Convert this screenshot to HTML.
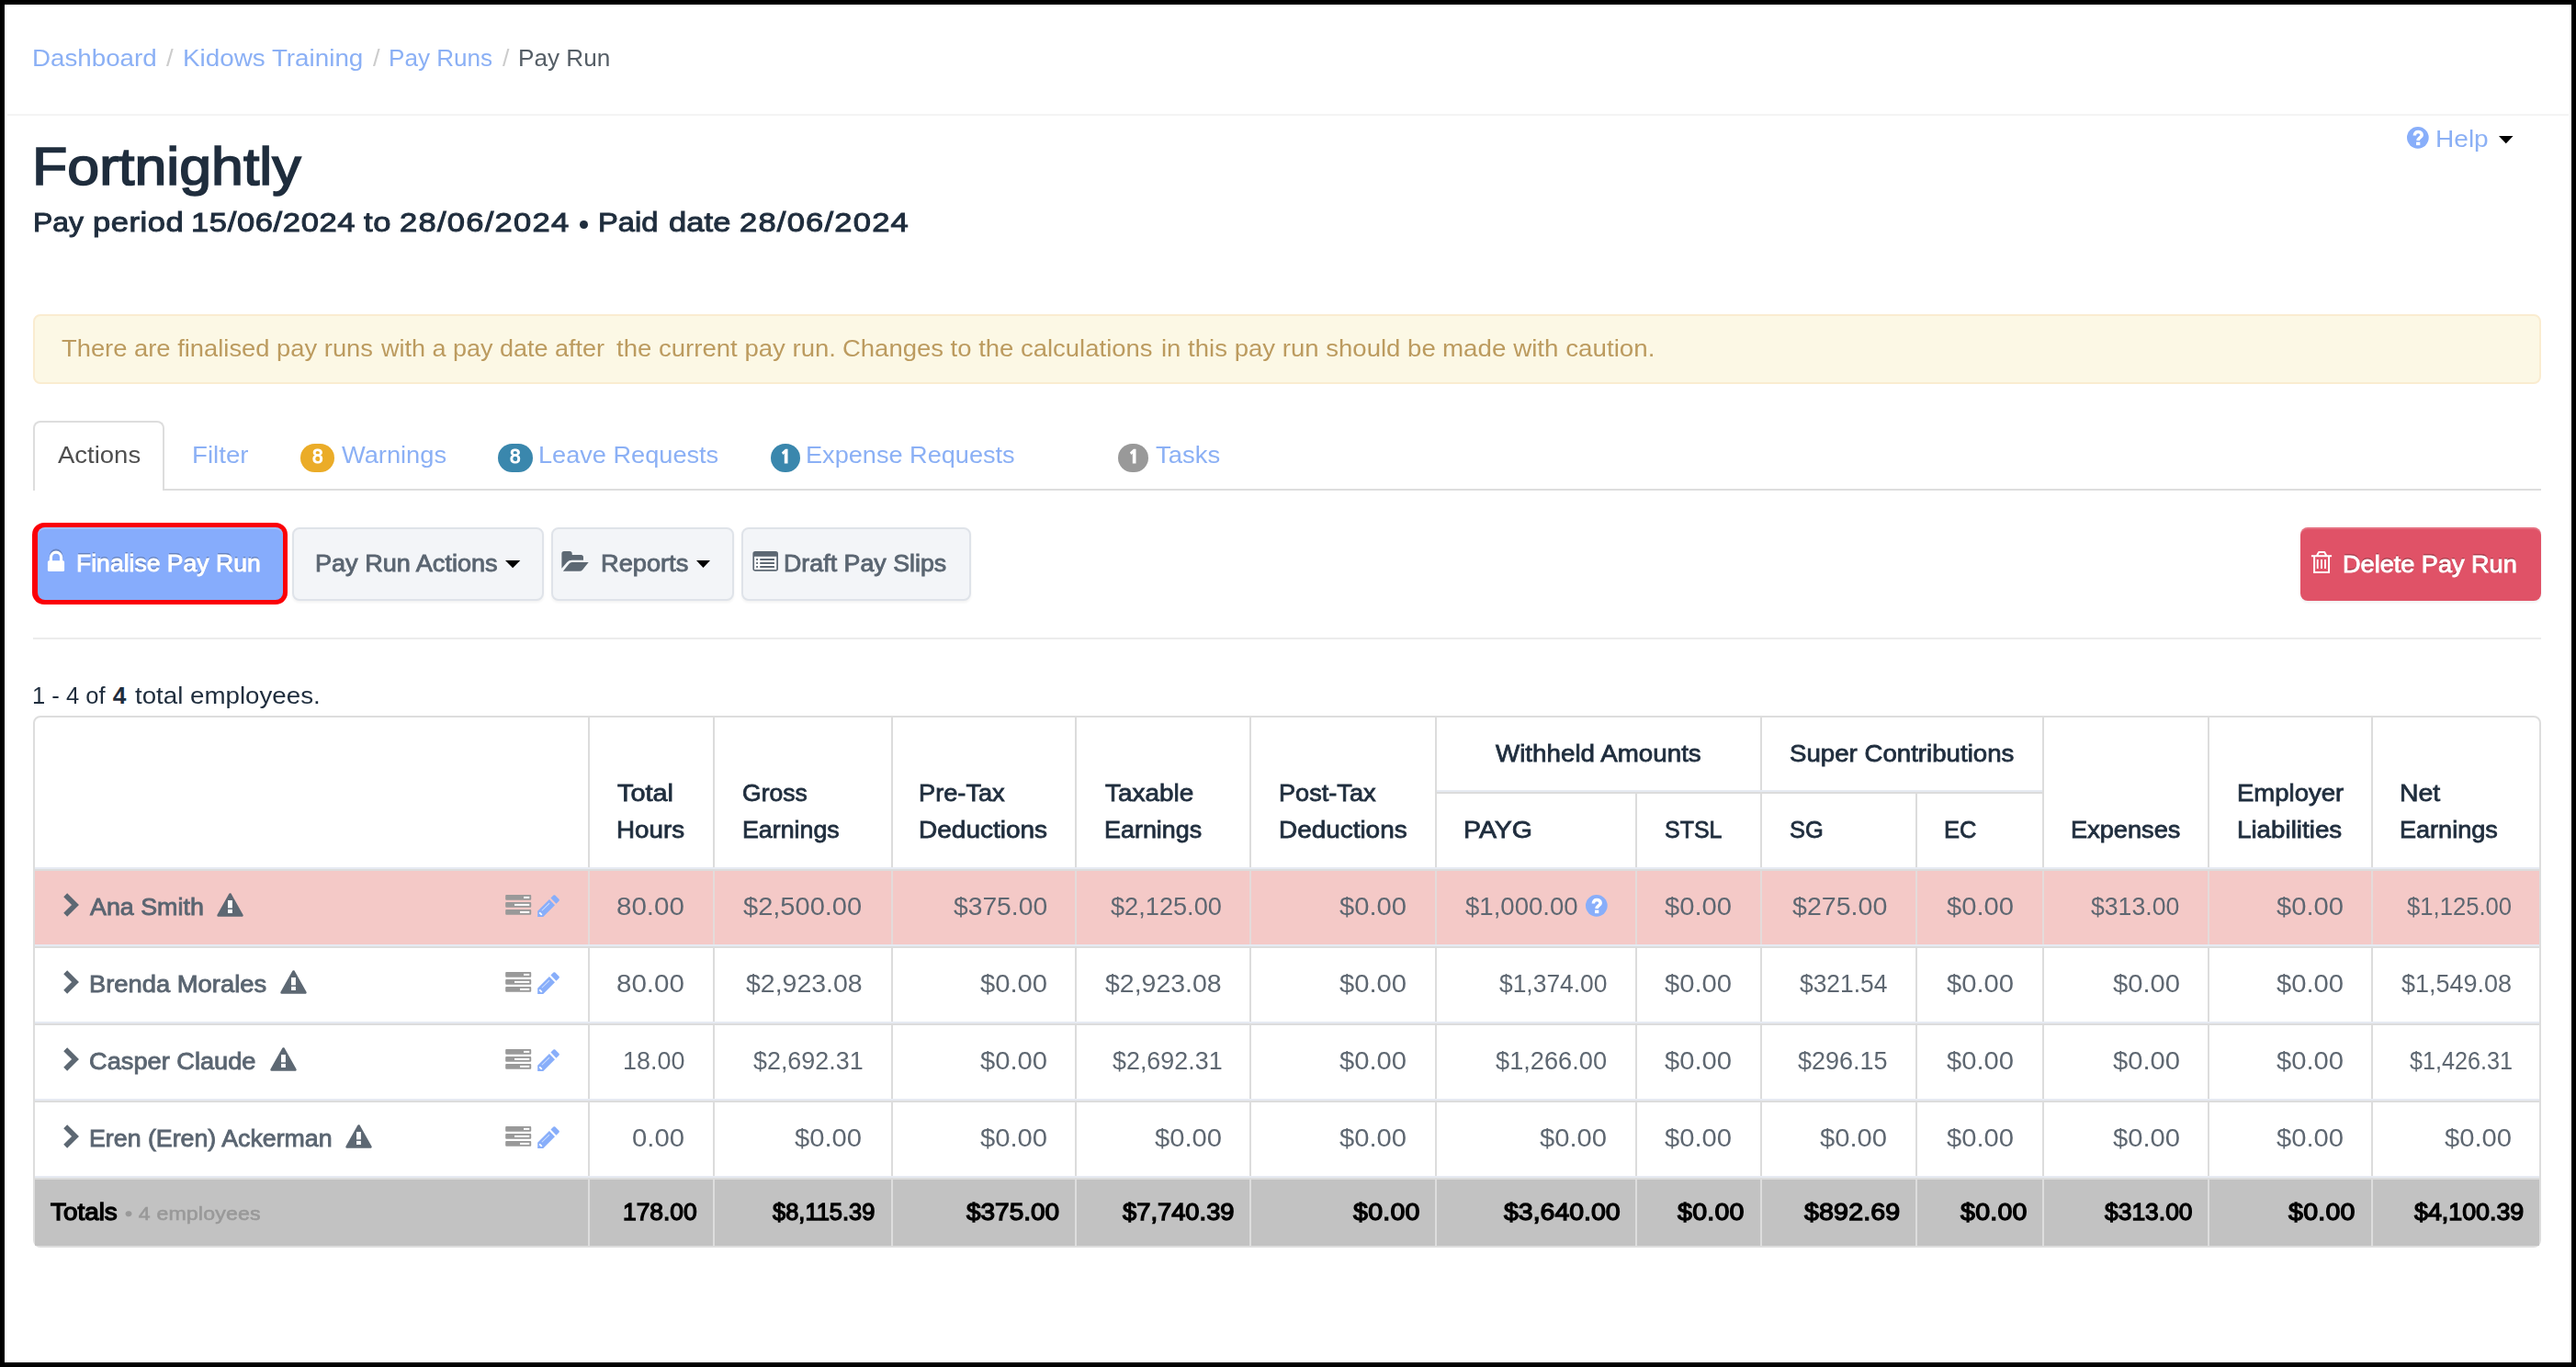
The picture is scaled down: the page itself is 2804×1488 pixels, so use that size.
<!DOCTYPE html>
<html lang="en">
<head>
<meta charset="utf-8">
<title>Pay Run</title>
<style>
html,body{margin:0;padding:0}
body{width:2804px;height:1488px;position:relative;overflow:hidden;background:#fff;font-family:"Liberation Sans",sans-serif}
div,span,svg{position:absolute;box-sizing:border-box}
.t{white-space:pre;line-height:40px;height:40px;transform-origin:0 0}
svg{overflow:visible}
#frame{left:0;top:0;width:2804px;height:1488px;border:5px solid #000;z-index:9}
.hr{height:2px;background:#ececec}
#alert{left:36px;top:342px;width:2730px;height:76px;background:#fcf8e5;border:2px solid #faecd0;border-radius:8px}
#tabline{left:36px;top:532px;width:2730px;height:2px;background:#dddddd}
#tabact{left:36px;top:458px;width:143px;height:76px;border:2px solid #dddddd;border-bottom:0;border-radius:8px 8px 0 0;background:#fff}
.bdg{top:483px;height:31px;border-radius:16px;color:#fff;font-size:21px;line-height:31px;text-align:center;font-weight:bold}
.btn{top:574px;height:79.5px;border-radius:8px;background:#f3f5f8;border:2px solid #dfe3e9;box-shadow:0 2px 3px rgba(0,0,0,0.05)}
#redo{left:35px;top:569px;width:278px;height:89px;border-radius:13px;background:#fb0007}
#fin{left:40.5px;top:574px;width:267.5px;height:79px;border-radius:8px;background:#86acfc;box-shadow:inset 0 2px 0 rgba(255,255,255,0.22)}
#del{left:2504px;top:574px;width:262px;height:80px;border-radius:8px;background:#e05267;box-shadow:inset 0 2px 0 rgba(255,255,255,0.18),0 2px 3px rgba(0,0,0,0.06)}
#b1,#b5{text-shadow:0 -2px 0 rgba(0,0,0,0.25)}
#tbl{left:36px;top:778.5px;width:2730px;height:579px;border:2px solid #dddddd;border-radius:8px;overflow:hidden;background:#fff}
.vl{width:2px;background:#dcdcdc}
.hl1{height:2px;background:#e6eaf2}
.hl2{height:2px;background:#dcdcdc}
#pink{left:38px;top:948px;width:2726px;height:80px;background:#f4c9c7}
#totbg{left:38px;top:1284px;width:2726px;height:72px;background:#c2c2c2}

</style>
</head>
<body>
<div id="frame"></div>
<div class="hr" style="left:8px;top:124px;width:2788px;background:#f4f4f4"></div>
<svg style="left:2619.55px;top:138.05px" width="23.70" height="23.70" viewBox="0 0 24 24"><circle cx="12" cy="12" r="12" fill="#88aefa"/><path d="M8.5 9.6C8.4 6.9 10.2 5.6 12.3 5.6c2.300 0 4.100 1.300 4.100 3.400 0 2.900-4.100 2.900-4.100 6.300" fill="none" stroke="#fff" stroke-width="3.6"/><rect x="10.2" y="16.8" width="4.3" height="3.6" fill="#fff"/></svg>
<svg style="left:2720.3px;top:147.9px" width="15.6" height="8.2" viewBox="0 0 15.6 8.2"><path d="M0 0h15.6L7.800 8.200z" fill="#000"/></svg>
<div style="left:631.2px;top:240.2px;width:8.8px;height:8.8px;border-radius:50%;background:#1f2d3d"></div>
<div id="alert"></div>
<div id="tabline"></div><div id="tabact"></div>
<div class="bdg" style="left:327px;width:36.8px;background:#ebac28"></div>
<div class="bdg" style="left:541.9px;width:38.3px;background:#3a87ad"></div>
<div class="bdg" style="left:838.9px;width:32px;background:#3a87ad"></div>
<div class="bdg" style="left:1217px;width:33.4px;background:#999999"></div>
<svg style="left:850.0px;top:488px" width="9" height="17" viewBox="850 488 9 17"><path d="M857.5 488.700V504.500H853.800V493.600L852.400 494.900L850.900 492.600L854.900 488.700z" fill="#fff"/></svg>
<svg style="left:1228.7px;top:488px" width="9" height="17" viewBox="850 488 9 17"><path d="M857.5 488.700V504.500H853.800V493.600L852.400 494.900L850.900 492.600L854.900 488.700z" fill="#fff"/></svg>
<div id="redo"></div><div id="fin"></div>
<div class="btn" style="left:318px;width:274px"></div>
<div class="btn" style="left:600px;width:199px"></div>
<div class="btn" style="left:807px;width:249.5px"></div>
<div id="del"></div>
<svg style="left:50px;top:597px" width="22" height="27" viewBox="50 597 22 27"><path d="M55.4 611v-4.2a5.600 5.600 0 0 1 11.200 0V611" fill="none" stroke="#fff" stroke-width="3.2" style="filter:drop-shadow(0 -1.5px 0 rgba(0,0,0,0.22))"/><rect x="51.9" y="610.2" width="18.2" height="11.9" rx="1.6" fill="#fff"/></svg>
<svg style="left:549.9px;top:610px" width="16.3" height="8.2" viewBox="0 0 16.3 8.2"><path d="M0 0h16.3L8.15 8.2z" fill="#000"/></svg>
<svg style="left:757.9px;top:610px" width="15" height="8" viewBox="0 0 15 8"><path d="M0 0h15L7.5 8z" fill="#000"/></svg>
<svg style="left:611px;top:599px" width="31" height="24" viewBox="611 599 31 24" fill="#5d6873"><path d="M611.4 618.8V602.600Q611.400 600 614 600h6.100Q622.700 600 622.700 602.600V604.100h9.700Q635 604.100 635 606.700V609.700H622.500Q619.200 609.700 617.200 612.100z"/><path d="M612.900 621.800l6.500-8Q620.700 612.100 622.700 612.100h18l-6.600 8.100Q632.800 621.800 630.800 621.800z"/></svg>
<svg style="left:819px;top:600px" width="29" height="22" viewBox="819 600 29 22"><rect x="819.4" y="600.1" width="27.6" height="21.7" rx="2.8" fill="#5d6873"/><rect x="821.1" y="605.8" width="24.1" height="14.2" fill="#fff"/><g fill="#5d6873"><rect x="823.1" y="608.1" width="2" height="1.8"/><rect x="827.2" y="608.1" width="15.8" height="1.8" rx=".5"/><rect x="823.1" y="612.1" width="2" height="1.8"/><rect x="827.2" y="612.1" width="15.8" height="1.8" rx=".5"/><rect x="823.1" y="616.1" width="2" height="1.800"/><rect x="827.2" y="616.1" width="15.8" height="1.8" rx=".5"/></g></svg>
<svg style="left:2515px;top:599px" width="24" height="26" viewBox="2515 599 24 26" fill="none" stroke="#fff" stroke-width="2" style="filter:drop-shadow(0 -1.5px 0 rgba(0,0,0,0.2))"><path d="M2515.900 605.200H2538.100"/><path d="M2521.900 605l2.200-4h6.100l2.200 4" stroke-linejoin="round"/><path d="M2519.100 606V623.100H2535V606"/><path d="M2522.700 608.900V619M2527 608.900V619M2531 608.900V619" stroke-width="1.800"/></svg>
<div class="hr" style="left:36px;top:694px;width:2730px"></div>
<div id="tbl"></div><div id="pink"></div><div id="totbg"></div>
<div class="vl" style="left:640px;top:780.5px;height:575.0px"></div>
<div class="vl" style="left:640px;top:948px;height:80px;background:#e4dbda"></div>
<div class="vl" style="left:640px;top:1284px;height:71.5px;background:#dddddd"></div>
<div class="vl" style="left:776px;top:780.5px;height:575.0px"></div>
<div class="vl" style="left:776px;top:948px;height:80px;background:#e4dbda"></div>
<div class="vl" style="left:776px;top:1284px;height:71.5px;background:#dddddd"></div>
<div class="vl" style="left:969.7px;top:780.5px;height:575.0px"></div>
<div class="vl" style="left:969.7px;top:948px;height:80px;background:#e4dbda"></div>
<div class="vl" style="left:969.7px;top:1284px;height:71.5px;background:#dddddd"></div>
<div class="vl" style="left:1169.8px;top:780.5px;height:575.0px"></div>
<div class="vl" style="left:1169.8px;top:948px;height:80px;background:#e4dbda"></div>
<div class="vl" style="left:1169.8px;top:1284px;height:71.5px;background:#dddddd"></div>
<div class="vl" style="left:1359.6px;top:780.5px;height:575.0px"></div>
<div class="vl" style="left:1359.6px;top:948px;height:80px;background:#e4dbda"></div>
<div class="vl" style="left:1359.6px;top:1284px;height:71.5px;background:#dddddd"></div>
<div class="vl" style="left:1561.8px;top:780.5px;height:575.0px"></div>
<div class="vl" style="left:1561.8px;top:948px;height:80px;background:#e4dbda"></div>
<div class="vl" style="left:1561.8px;top:1284px;height:71.5px;background:#dddddd"></div>
<div class="vl" style="left:1779.6px;top:864px;height:491.5px"></div>
<div class="vl" style="left:1779.6px;top:948px;height:80px;background:#e4dbda"></div>
<div class="vl" style="left:1779.6px;top:1284px;height:71.5px;background:#dddddd"></div>
<div class="vl" style="left:1915.9px;top:780.5px;height:575.0px"></div>
<div class="vl" style="left:1915.9px;top:948px;height:80px;background:#e4dbda"></div>
<div class="vl" style="left:1915.9px;top:1284px;height:71.5px;background:#dddddd"></div>
<div class="vl" style="left:2085px;top:864px;height:491.5px"></div>
<div class="vl" style="left:2085px;top:948px;height:80px;background:#e4dbda"></div>
<div class="vl" style="left:2085px;top:1284px;height:71.5px;background:#dddddd"></div>
<div class="vl" style="left:2222.9px;top:780.5px;height:575.0px"></div>
<div class="vl" style="left:2222.9px;top:948px;height:80px;background:#e4dbda"></div>
<div class="vl" style="left:2222.9px;top:1284px;height:71.5px;background:#dddddd"></div>
<div class="vl" style="left:2402.8px;top:780.5px;height:575.0px"></div>
<div class="vl" style="left:2402.8px;top:948px;height:80px;background:#e4dbda"></div>
<div class="vl" style="left:2402.8px;top:1284px;height:71.5px;background:#dddddd"></div>
<div class="vl" style="left:2580.8px;top:780.5px;height:575.0px"></div>
<div class="vl" style="left:2580.8px;top:948px;height:80px;background:#e4dbda"></div>
<div class="vl" style="left:2580.8px;top:1284px;height:71.5px;background:#dddddd"></div>
<div class="hl1" style="left:1563.8px;top:860px;width:659.1000000000001px"></div><div class="hl2" style="left:1563.8px;top:862px;width:659.1000000000001px"></div>
<div class="hl1" style="left:38px;top:944px;width:2726px"></div><div class="hl2" style="left:38px;top:946px;width:2726px"></div>
<div class="hl1" style="left:38px;top:1028px;width:2726px"></div><div class="hl2" style="left:38px;top:1030px;width:2726px"></div>
<div class="hl1" style="left:38px;top:1112px;width:2726px"></div><div class="hl2" style="left:38px;top:1114px;width:2726px"></div>
<div class="hl1" style="left:38px;top:1196px;width:2726px"></div><div class="hl2" style="left:38px;top:1198px;width:2726px"></div>
<div class="hl1" style="left:38px;top:1280px;width:2726px"></div><div class="hl2" style="left:38px;top:1282px;width:2726px"></div>
<svg style="left:66px;top:970px" width="24" height="30" viewBox="66 970 24 30"><path d="M71.200 974.3L82 985L71.200 995.7" fill="none" stroke="#5d6873" stroke-width="5.6"/></svg>
<svg style="left:235.2px;top:971px" width="31" height="29" viewBox="235.2 971 31 29"><path d="M250.70 973.5L263.60 996.5H237.80z" fill="#5d6873" stroke="#5d6873" stroke-width="2.600" stroke-linejoin="round"/><rect x="248.20" y="980" width="4.900" height="8.400" fill="#fff"/><rect x="248.20" y="989.9" width="4.900" height="4.100" fill="#fff"/></svg>
<svg style="left:550px;top:974px" width="29" height="23" viewBox="550 974 29 23"><rect x="550.2" y="974" width="28" height="5.800" rx="1" fill="#999999"/><rect x="570" y="975.9" width="6.3" height="2" fill="#fff"/><rect x="550.2" y="982" width="28" height="5.800" rx="1" fill="#999999"/><rect x="560" y="983.9" width="16.3" height="2" fill="#fff"/><rect x="550.2" y="990" width="28" height="5.800" rx="1" fill="#999999"/><rect x="566" y="991.9" width="10.3" height="2" fill="#fff"/></svg>
<svg style="left:585.2px;top:974px" width="24.1" height="24.1" viewBox="0 0 24 24"><path d="M0.200 24V17.800L12.900 5.100l6 6L6.200 24z" fill="#88aefa"/><path d="M14.400 3.600l3-3q.9-.9 1.800 0l4.200 4.200q.9.900 0 1.800l-3 3z" fill="#88aefa"/><path d="M4.800 17.200L13 9" stroke="#cfe0ff" stroke-width="1" fill="none"/><path d="M2.200 19.200l2.600 2.600" stroke="#fff" stroke-width="1.800" fill="none"/></svg>
<svg style="left:66px;top:1054px" width="24" height="30" viewBox="66 1054 24 30"><path d="M71.200 1058.3L82 1069L71.200 1079.7" fill="none" stroke="#5d6873" stroke-width="5.6"/></svg>
<svg style="left:304.4px;top:1055px" width="31" height="29" viewBox="304.4 1055 31 29"><path d="M319.90 1057.5L332.80 1080.5H307.00z" fill="#5d6873" stroke="#5d6873" stroke-width="2.600" stroke-linejoin="round"/><rect x="317.40" y="1064" width="4.900" height="8.400" fill="#fff"/><rect x="317.40" y="1073.9" width="4.900" height="4.100" fill="#fff"/></svg>
<svg style="left:550px;top:1058px" width="29" height="23" viewBox="550 1058 29 23"><rect x="550.2" y="1058" width="28" height="5.800" rx="1" fill="#999999"/><rect x="570" y="1059.9" width="6.3" height="2" fill="#fff"/><rect x="550.2" y="1066" width="28" height="5.800" rx="1" fill="#999999"/><rect x="560" y="1067.9" width="16.3" height="2" fill="#fff"/><rect x="550.2" y="1074" width="28" height="5.800" rx="1" fill="#999999"/><rect x="566" y="1075.9" width="10.3" height="2" fill="#fff"/></svg>
<svg style="left:585.2px;top:1058px" width="24.1" height="24.1" viewBox="0 0 24 24"><path d="M0.200 24V17.800L12.900 5.100l6 6L6.200 24z" fill="#88aefa"/><path d="M14.400 3.600l3-3q.9-.9 1.800 0l4.200 4.200q.9.900 0 1.800l-3 3z" fill="#88aefa"/><path d="M4.800 17.200L13 9" stroke="#cfe0ff" stroke-width="1" fill="none"/><path d="M2.200 19.200l2.600 2.600" stroke="#fff" stroke-width="1.800" fill="none"/></svg>
<svg style="left:66px;top:1138px" width="24" height="30" viewBox="66 1138 24 30"><path d="M71.200 1142.3L82 1153L71.200 1163.7" fill="none" stroke="#5d6873" stroke-width="5.6"/></svg>
<svg style="left:292.5px;top:1139px" width="31" height="29" viewBox="292.5 1139 31 29"><path d="M308.00 1141.5L320.90 1164.5H295.10z" fill="#5d6873" stroke="#5d6873" stroke-width="2.600" stroke-linejoin="round"/><rect x="305.50" y="1148" width="4.900" height="8.400" fill="#fff"/><rect x="305.50" y="1157.9" width="4.900" height="4.100" fill="#fff"/></svg>
<svg style="left:550px;top:1142px" width="29" height="23" viewBox="550 1142 29 23"><rect x="550.2" y="1142" width="28" height="5.800" rx="1" fill="#999999"/><rect x="570" y="1143.9" width="6.3" height="2" fill="#fff"/><rect x="550.2" y="1150" width="28" height="5.800" rx="1" fill="#999999"/><rect x="560" y="1151.9" width="16.3" height="2" fill="#fff"/><rect x="550.2" y="1158" width="28" height="5.800" rx="1" fill="#999999"/><rect x="566" y="1159.9" width="10.3" height="2" fill="#fff"/></svg>
<svg style="left:585.2px;top:1142px" width="24.1" height="24.1" viewBox="0 0 24 24"><path d="M0.200 24V17.800L12.900 5.100l6 6L6.200 24z" fill="#88aefa"/><path d="M14.400 3.600l3-3q.9-.9 1.800 0l4.200 4.200q.9.900 0 1.800l-3 3z" fill="#88aefa"/><path d="M4.800 17.200L13 9" stroke="#cfe0ff" stroke-width="1" fill="none"/><path d="M2.200 19.200l2.600 2.600" stroke="#fff" stroke-width="1.800" fill="none"/></svg>
<svg style="left:66px;top:1222px" width="24" height="30" viewBox="66 1222 24 30"><path d="M71.200 1226.3L82 1237L71.200 1247.7" fill="none" stroke="#5d6873" stroke-width="5.6"/></svg>
<svg style="left:375.2px;top:1223px" width="31" height="29" viewBox="375.2 1223 31 29"><path d="M390.70 1225.5L403.60 1248.5H377.80z" fill="#5d6873" stroke="#5d6873" stroke-width="2.600" stroke-linejoin="round"/><rect x="388.20" y="1232" width="4.900" height="8.400" fill="#fff"/><rect x="388.20" y="1241.9" width="4.900" height="4.100" fill="#fff"/></svg>
<svg style="left:550px;top:1226px" width="29" height="23" viewBox="550 1226 29 23"><rect x="550.2" y="1226" width="28" height="5.800" rx="1" fill="#999999"/><rect x="570" y="1227.9" width="6.3" height="2" fill="#fff"/><rect x="550.2" y="1234" width="28" height="5.800" rx="1" fill="#999999"/><rect x="560" y="1235.9" width="16.3" height="2" fill="#fff"/><rect x="550.2" y="1242" width="28" height="5.800" rx="1" fill="#999999"/><rect x="566" y="1243.9" width="10.3" height="2" fill="#fff"/></svg>
<svg style="left:585.2px;top:1226px" width="24.1" height="24.1" viewBox="0 0 24 24"><path d="M0.200 24V17.800L12.900 5.100l6 6L6.200 24z" fill="#88aefa"/><path d="M14.400 3.600l3-3q.9-.9 1.800 0l4.200 4.200q.9.900 0 1.800l-3 3z" fill="#88aefa"/><path d="M4.800 17.200L13 9" stroke="#cfe0ff" stroke-width="1" fill="none"/><path d="M2.200 19.200l2.600 2.600" stroke="#fff" stroke-width="1.800" fill="none"/></svg>
<svg style="left:1725.85px;top:974.15px" width="23.70" height="23.70" viewBox="0 0 24 24"><circle cx="12" cy="12" r="12" fill="#88aefa"/><path d="M8.5 9.6C8.4 6.9 10.2 5.6 12.3 5.6c2.300 0 4.100 1.300 4.100 3.400 0 2.900-4.100 2.900-4.100 6.300" fill="none" stroke="#fff" stroke-width="3.6"/><rect x="10.2" y="16.8" width="4.3" height="3.6" fill="#fff"/></svg>
<span class="t" id="bc1" style="left:35.33px;top:42.71px;font-size:26.5px;color:#8bb0f5;transform:scaleX(1.0461);">Dashboard</span>
<span class="t" id="bs1" style="left:181.40px;top:42.71px;font-size:26.5px;color:#cccccc;transform:scaleX(1.0448);">/</span>
<span class="t" id="bc2" style="left:198.63px;top:42.71px;font-size:26.5px;color:#8bb0f5;transform:scaleX(1.0495);">Kidows Training</span>
<span class="t" id="bs2" style="left:405.50px;top:42.71px;font-size:26.5px;color:#cccccc;transform:scaleX(1.0314);">/</span>
<span class="t" id="bc3" style="left:422.76px;top:42.71px;font-size:26.5px;color:#8bb0f5;transform:scaleX(0.9849);">Pay Runs</span>
<span class="t" id="bs3" style="left:546.70px;top:42.71px;font-size:26.5px;color:#cccccc;transform:scaleX(1.0046);">/</span>
<span class="t" id="bc4" style="left:564.06px;top:42.71px;font-size:26.5px;color:#555e66;transform:scaleX(0.9869);">Pay Run</span>
<span class="t" id="title" style="left:35.02px;top:160.57px;font-size:58.2px;color:#1f2d3d;transform:scaleX(1.0773);-webkit-text-stroke:1.7px #1f2d3d;">Fortnightly</span>
<span class="t" id="s1" style="left:36.24px;top:221.50px;font-size:30.3px;color:#1f2d3d;transform:scaleX(1.0521);-webkit-text-stroke:1.0px #1f2d3d;">Pay</span>
<span class="t" id="s2" style="left:101.21px;top:221.50px;font-size:30.3px;color:#1f2d3d;letter-spacing:0.462px;transform:scaleX(1.1400);-webkit-text-stroke:1.0px #1f2d3d;">period</span>
<span class="t" id="s3" style="left:207.91px;top:221.50px;font-size:30.3px;color:#1f2d3d;letter-spacing:0.556px;transform:scaleX(1.1400);-webkit-text-stroke:1.0px #1f2d3d;">15/06/2024</span>
<span class="t" id="s4" style="left:396.47px;top:221.50px;font-size:30.3px;color:#1f2d3d;letter-spacing:0.473px;transform:scaleX(1.1400);-webkit-text-stroke:1.0px #1f2d3d;">to</span>
<span class="t" id="s5" style="left:435.15px;top:221.50px;font-size:30.3px;color:#1f2d3d;letter-spacing:1.098px;transform:scaleX(1.1400);-webkit-text-stroke:1.0px #1f2d3d;">28/06/2024</span>
<span class="t" id="s7" style="left:651.28px;top:221.50px;font-size:30.3px;color:#1f2d3d;transform:scaleX(1.0804);-webkit-text-stroke:1.0px #1f2d3d;">Paid</span>
<span class="t" id="s8" style="left:727.59px;top:221.50px;font-size:30.3px;color:#1f2d3d;letter-spacing:0.034px;transform:scaleX(1.1400);-webkit-text-stroke:1.0px #1f2d3d;">date</span>
<span class="t" id="s9" style="left:804.65px;top:221.50px;font-size:30.3px;color:#1f2d3d;letter-spacing:1.069px;transform:scaleX(1.1400);-webkit-text-stroke:1.0px #1f2d3d;">28/06/2024</span>
<span class="t" id="help" style="left:2650.71px;top:130.79px;font-size:26px;color:#8bb0f5;transform:scaleX(1.0794);">Help</span>
<span class="t" id="a1" style="left:66.57px;top:358.79px;font-size:26px;color:#bc9b5f;transform:scaleX(1.0518);">There are finalised pay runs</span>
<span class="t" id="a2" style="left:414.52px;top:358.79px;font-size:26px;color:#bc9b5f;transform:scaleX(1.0383);">with a pay date after</span>
<span class="t" id="a3" style="left:671.40px;top:358.79px;font-size:26px;color:#bc9b5f;transform:scaleX(1.0600);">the current pay run.</span>
<span class="t" id="a4" style="left:917.11px;top:358.79px;font-size:26px;color:#bc9b5f;transform:scaleX(1.0567);">Changes to the calculations</span>
<span class="t" id="a5" style="left:1263.68px;top:358.79px;font-size:26px;color:#bc9b5f;transform:scaleX(1.0599);">in this pay run should be</span>
<span class="t" id="a6" style="left:1569.97px;top:358.79px;font-size:26px;color:#bc9b5f;transform:scaleX(1.0676);">made with caution.</span>
<span class="t" id="t1" style="left:63.00px;top:474.59px;font-size:25.4px;color:#4f4f4f;transform:scaleX(1.0828);">Actions</span>
<span class="t" id="t2" style="left:208.74px;top:474.59px;font-size:25.4px;color:#8bb0f5;transform:scaleX(1.0897);">Filter</span>
<span class="t" id="t3" style="left:372.00px;top:474.59px;font-size:25.4px;color:#8bb0f5;transform:scaleX(1.0728);">Warnings</span>
<span class="t" id="t4" style="left:586.18px;top:474.59px;font-size:25.4px;color:#8bb0f5;transform:scaleX(1.0690);">Leave Requests</span>
<span class="t" id="t5" style="left:877.38px;top:474.59px;font-size:25.4px;color:#8bb0f5;transform:scaleX(1.0682);">Expense Requests</span>
<span class="t" id="t6" style="left:1257.67px;top:474.59px;font-size:25.4px;color:#8bb0f5;transform:scaleX(1.0814);">Tasks</span>
<span class="t" id="bd1" style="left:339.54px;top:476.72px;font-size:21.3px;color:#ffffff;transform:scaleX(0.9797);-webkit-text-stroke:1.0px #ffffff;">8</span>
<span class="t" id="bd2" style="left:555.34px;top:476.72px;font-size:21.3px;color:#ffffff;transform:scaleX(0.9797);-webkit-text-stroke:1.0px #ffffff;">8</span>
<span class="t" id="b1" style="left:82.66px;top:593.07px;font-size:25.7px;color:#ffffff;transform:scaleX(1.0335);-webkit-text-stroke:0.85px #ffffff;">Finalise Pay Run</span>
<span class="t" id="b2" style="left:343.23px;top:593.07px;font-size:25.7px;color:#5a6571;transform:scaleX(1.0535);-webkit-text-stroke:0.85px #5a6571;">Pay Run Actions</span>
<span class="t" id="b3" style="left:654.32px;top:593.07px;font-size:25.7px;color:#5a6571;transform:scaleX(1.0592);-webkit-text-stroke:0.85px #5a6571;">Reports</span>
<span class="t" id="b4" style="left:852.75px;top:593.07px;font-size:25.7px;color:#5a6571;transform:scaleX(1.0433);-webkit-text-stroke:0.85px #5a6571;">Draft Pay Slips</span>
<span class="t" id="b5" style="left:2550.13px;top:593.57px;font-size:25.7px;color:#ffffff;transform:scaleX(1.0546);-webkit-text-stroke:0.85px #ffffff;">Delete Pay Run</span>
<span class="t" id="c1" style="left:34.90px;top:736.88px;font-size:26.3px;color:#1f2d3d;transform:scaleX(0.9725);">1 - 4 of</span>
<span class="t" id="c2" style="left:122.70px;top:736.88px;font-size:26.3px;color:#1f2d3d;font-weight:bold;">4</span>
<span class="t" id="c3" style="left:146.80px;top:736.88px;font-size:26.3px;color:#1f2d3d;transform:scaleX(1.0533);">total employees.</span>
<span class="t" id="h1a" style="left:672.18px;top:843.24px;font-size:26.7px;color:#1f2d3d;transform:scaleX(1.0819);-webkit-text-stroke:0.8px #1f2d3d;">Total</span>
<span class="t" id="h1b" style="left:670.95px;top:883.44px;font-size:26.7px;color:#1f2d3d;transform:scaleX(1.0408);-webkit-text-stroke:0.8px #1f2d3d;">Hours</span>
<span class="t" id="h2a" style="left:807.75px;top:843.24px;font-size:26.7px;color:#1f2d3d;transform:scaleX(0.9943);-webkit-text-stroke:0.8px #1f2d3d;">Gross</span>
<span class="t" id="h2b" style="left:807.61px;top:883.44px;font-size:26.7px;color:#1f2d3d;transform:scaleX(1.0036);-webkit-text-stroke:0.8px #1f2d3d;">Earnings</span>
<span class="t" id="h3a" style="left:999.78px;top:843.24px;font-size:26.7px;color:#1f2d3d;transform:scaleX(1.0191);-webkit-text-stroke:0.8px #1f2d3d;">Pre-Tax</span>
<span class="t" id="h3b" style="left:999.73px;top:883.44px;font-size:26.7px;color:#1f2d3d;transform:scaleX(1.0494);-webkit-text-stroke:0.8px #1f2d3d;">Deductions</span>
<span class="t" id="h4a" style="left:1202.98px;top:843.24px;font-size:26.7px;color:#1f2d3d;transform:scaleX(1.0460);-webkit-text-stroke:0.8px #1f2d3d;">Taxable</span>
<span class="t" id="h4b" style="left:1201.70px;top:883.44px;font-size:26.7px;color:#1f2d3d;transform:scaleX(1.0085);-webkit-text-stroke:0.8px #1f2d3d;">Earnings</span>
<span class="t" id="h5a" style="left:1391.59px;top:843.24px;font-size:26.7px;color:#1f2d3d;transform:scaleX(1.0171);-webkit-text-stroke:0.8px #1f2d3d;">Post-Tax</span>
<span class="t" id="h5b" style="left:1391.54px;top:883.44px;font-size:26.7px;color:#1f2d3d;transform:scaleX(1.0456);-webkit-text-stroke:0.8px #1f2d3d;">Deductions</span>
<span class="t" id="h6" style="left:1628.42px;top:799.84px;font-size:26.7px;color:#1f2d3d;transform:scaleX(1.0402);-webkit-text-stroke:0.8px #1f2d3d;">Withheld Amounts</span>
<span class="t" id="h7" style="left:1947.85px;top:799.84px;font-size:26.7px;color:#1f2d3d;transform:scaleX(1.0361);-webkit-text-stroke:0.8px #1f2d3d;">Super Contributions</span>
<span class="t" id="h8" style="left:1592.50px;top:883.44px;font-size:26.7px;color:#1f2d3d;transform:scaleX(1.0684);-webkit-text-stroke:0.8px #1f2d3d;">PAYG</span>
<span class="t" id="h9" style="left:1811.59px;top:883.44px;font-size:26.7px;color:#1f2d3d;transform:scaleX(0.9356);-webkit-text-stroke:0.8px #1f2d3d;">STSL</span>
<span class="t" id="h10" style="left:1948.39px;top:883.44px;font-size:26.7px;color:#1f2d3d;transform:scaleX(0.9553);-webkit-text-stroke:0.8px #1f2d3d;">SG</span>
<span class="t" id="h11" style="left:2116.08px;top:883.44px;font-size:26.7px;color:#1f2d3d;transform:scaleX(0.9579);-webkit-text-stroke:0.8px #1f2d3d;">EC</span>
<span class="t" id="h12" style="left:2253.68px;top:883.44px;font-size:26.7px;color:#1f2d3d;transform:scaleX(1.0184);-webkit-text-stroke:0.8px #1f2d3d;">Expenses</span>
<span class="t" id="h13a" style="left:2434.66px;top:843.24px;font-size:26.7px;color:#1f2d3d;transform:scaleX(1.0305);-webkit-text-stroke:0.8px #1f2d3d;">Employer</span>
<span class="t" id="h13b" style="left:2434.65px;top:883.44px;font-size:26.7px;color:#1f2d3d;transform:scaleX(1.0403);-webkit-text-stroke:0.8px #1f2d3d;">Liabilities</span>
<span class="t" id="h14a" style="left:2612.30px;top:843.24px;font-size:26.7px;color:#1f2d3d;transform:scaleX(1.0660);-webkit-text-stroke:0.8px #1f2d3d;">Net</span>
<span class="t" id="h14b" style="left:2612.39px;top:883.44px;font-size:26.7px;color:#1f2d3d;transform:scaleX(1.0143);-webkit-text-stroke:0.8px #1f2d3d;">Earnings</span>
<span class="t" id="n1" style="left:97.93px;top:967.46px;font-size:26.3px;color:#5a6571;transform:scaleX(1.0207);-webkit-text-stroke:0.85px #5a6571;">Ana Smith</span>
<span class="t" id="n2" style="left:97.20px;top:1051.46px;font-size:26.3px;color:#5a6571;transform:scaleX(1.0402);-webkit-text-stroke:0.85px #5a6571;">Brenda Morales</span>
<span class="t" id="n3" style="left:97.16px;top:1135.46px;font-size:26.3px;color:#5a6571;transform:scaleX(1.0346);-webkit-text-stroke:0.85px #5a6571;">Casper Claude</span>
<span class="t" id="n4" style="left:97.14px;top:1219.46px;font-size:26.3px;color:#5a6571;transform:scaleX(1.0172);-webkit-text-stroke:0.85px #5a6571;">Eren (Eren) Ackerman</span>
<span class="t" id="d0_0" style="left:671.18px;top:967.11px;font-size:26.8px;color:#5e6771;transform:scaleX(1.1013);">80.00</span>
<span class="t" id="d0_1" style="left:809.10px;top:967.11px;font-size:26.8px;color:#5e6771;transform:scaleX(1.0831);">$2,500.00</span>
<span class="t" id="d0_2" style="left:1037.60px;top:967.11px;font-size:26.8px;color:#5e6771;transform:scaleX(1.0540);">$375.00</span>
<span class="t" id="d0_3" style="left:1208.70px;top:967.11px;font-size:26.8px;color:#5e6771;transform:scaleX(1.0139);">$2,125.00</span>
<span class="t" id="d0_4" style="left:1458.20px;top:967.11px;font-size:26.8px;color:#5e6771;transform:scaleX(1.0889);">$0.00</span>
<span class="t" id="d0_5" style="left:1595.00px;top:967.11px;font-size:26.8px;color:#5e6771;transform:scaleX(1.0291);">$1,000.00</span>
<span class="t" id="d0_6" style="left:1812.40px;top:967.11px;font-size:26.8px;color:#5e6771;transform:scaleX(1.0889);">$0.00</span>
<span class="t" id="d0_7" style="left:1951.00px;top:967.11px;font-size:26.8px;color:#5e6771;transform:scaleX(1.0664);">$275.00</span>
<span class="t" id="d0_8" style="left:2119.00px;top:967.11px;font-size:26.8px;color:#5e6771;transform:scaleX(1.0889);">$0.00</span>
<span class="t" id="d0_9" style="left:2276.30px;top:967.11px;font-size:26.8px;color:#5e6771;transform:scaleX(0.9937);">$313.00</span>
<span class="t" id="d0_10" style="left:2477.60px;top:967.11px;font-size:26.8px;color:#5e6771;transform:scaleX(1.0889);">$0.00</span>
<span class="t" id="d0_11" style="left:2619.50px;top:967.11px;font-size:26.8px;color:#5e6771;transform:scaleX(0.9565);">$1,125.00</span>
<span class="t" id="d1_0" style="left:671.18px;top:1051.11px;font-size:26.8px;color:#5e6771;transform:scaleX(1.1013);">80.00</span>
<span class="t" id="d1_1" style="left:812.00px;top:1051.11px;font-size:26.8px;color:#5e6771;transform:scaleX(1.0624);">$2,923.08</span>
<span class="t" id="d1_2" style="left:1066.70px;top:1051.11px;font-size:26.8px;color:#5e6771;transform:scaleX(1.0889);">$0.00</span>
<span class="t" id="d1_3" style="left:1203.40px;top:1051.11px;font-size:26.8px;color:#5e6771;transform:scaleX(1.0624);">$2,923.08</span>
<span class="t" id="d1_4" style="left:1458.20px;top:1051.11px;font-size:26.8px;color:#5e6771;transform:scaleX(1.0889);">$0.00</span>
<span class="t" id="d1_5" style="left:1631.50px;top:1051.11px;font-size:26.8px;color:#5e6771;transform:scaleX(0.9852);">$1,374.00</span>
<span class="t" id="d1_6" style="left:1812.40px;top:1051.11px;font-size:26.8px;color:#5e6771;transform:scaleX(1.0889);">$0.00</span>
<span class="t" id="d1_7" style="left:1958.80px;top:1051.11px;font-size:26.8px;color:#5e6771;transform:scaleX(0.9854);">$321.54</span>
<span class="t" id="d1_8" style="left:2119.00px;top:1051.11px;font-size:26.8px;color:#5e6771;transform:scaleX(1.0889);">$0.00</span>
<span class="t" id="d1_9" style="left:2299.60px;top:1051.11px;font-size:26.8px;color:#5e6771;transform:scaleX(1.0889);">$0.00</span>
<span class="t" id="d1_10" style="left:2477.60px;top:1051.11px;font-size:26.8px;color:#5e6771;transform:scaleX(1.0889);">$0.00</span>
<span class="t" id="d1_11" style="left:2613.90px;top:1051.11px;font-size:26.8px;color:#5e6771;transform:scaleX(1.0073);">$1,549.08</span>
<span class="t" id="d2_0" style="left:677.62px;top:1135.11px;font-size:26.8px;color:#5e6771;transform:scaleX(1.0043);">18.00</span>
<span class="t" id="d2_1" style="left:819.60px;top:1135.11px;font-size:26.8px;color:#5e6771;transform:scaleX(1.0031);">$2,692.31</span>
<span class="t" id="d2_2" style="left:1066.70px;top:1135.11px;font-size:26.8px;color:#5e6771;transform:scaleX(1.0889);">$0.00</span>
<span class="t" id="d2_3" style="left:1211.00px;top:1135.11px;font-size:26.8px;color:#5e6771;transform:scaleX(1.0031);">$2,692.31</span>
<span class="t" id="d2_4" style="left:1458.20px;top:1135.11px;font-size:26.8px;color:#5e6771;transform:scaleX(1.0889);">$0.00</span>
<span class="t" id="d2_5" style="left:1627.90px;top:1135.11px;font-size:26.8px;color:#5e6771;transform:scaleX(1.0156);">$1,266.00</span>
<span class="t" id="d2_6" style="left:1812.40px;top:1135.11px;font-size:26.8px;color:#5e6771;transform:scaleX(1.0889);">$0.00</span>
<span class="t" id="d2_7" style="left:1957.10px;top:1135.11px;font-size:26.8px;color:#5e6771;transform:scaleX(1.0074);">$296.15</span>
<span class="t" id="d2_8" style="left:2119.00px;top:1135.11px;font-size:26.8px;color:#5e6771;transform:scaleX(1.0889);">$0.00</span>
<span class="t" id="d2_9" style="left:2299.60px;top:1135.11px;font-size:26.8px;color:#5e6771;transform:scaleX(1.0889);">$0.00</span>
<span class="t" id="d2_10" style="left:2477.60px;top:1135.11px;font-size:26.8px;color:#5e6771;transform:scaleX(1.0889);">$0.00</span>
<span class="t" id="d2_11" style="left:2622.50px;top:1135.11px;font-size:26.8px;color:#5e6771;transform:scaleX(0.9396);">$1,426.31</span>
<span class="t" id="d3_0" style="left:688.09px;top:1219.11px;font-size:26.8px;color:#5e6771;transform:scaleX(1.0918);">0.00</span>
<span class="t" id="d3_1" style="left:865.20px;top:1219.11px;font-size:26.8px;color:#5e6771;transform:scaleX(1.0889);">$0.00</span>
<span class="t" id="d3_2" style="left:1066.70px;top:1219.11px;font-size:26.8px;color:#5e6771;transform:scaleX(1.0889);">$0.00</span>
<span class="t" id="d3_3" style="left:1256.60px;top:1219.11px;font-size:26.8px;color:#5e6771;transform:scaleX(1.0889);">$0.00</span>
<span class="t" id="d3_4" style="left:1458.20px;top:1219.11px;font-size:26.8px;color:#5e6771;transform:scaleX(1.0889);">$0.00</span>
<span class="t" id="d3_5" style="left:1676.00px;top:1219.11px;font-size:26.8px;color:#5e6771;transform:scaleX(1.0889);">$0.00</span>
<span class="t" id="d3_6" style="left:1812.40px;top:1219.11px;font-size:26.8px;color:#5e6771;transform:scaleX(1.0889);">$0.00</span>
<span class="t" id="d3_7" style="left:1981.30px;top:1219.11px;font-size:26.8px;color:#5e6771;transform:scaleX(1.0889);">$0.00</span>
<span class="t" id="d3_8" style="left:2119.00px;top:1219.11px;font-size:26.8px;color:#5e6771;transform:scaleX(1.0889);">$0.00</span>
<span class="t" id="d3_9" style="left:2299.60px;top:1219.11px;font-size:26.8px;color:#5e6771;transform:scaleX(1.0889);">$0.00</span>
<span class="t" id="d3_10" style="left:2477.60px;top:1219.11px;font-size:26.8px;color:#5e6771;transform:scaleX(1.0889);">$0.00</span>
<span class="t" id="d3_11" style="left:2660.60px;top:1219.11px;font-size:26.8px;color:#5e6771;transform:scaleX(1.0889);">$0.00</span>
<span class="t" id="tt0" style="left:677.91px;top:1298.64px;font-size:26px;color:#000000;transform:scaleX(1.0145);-webkit-text-stroke:1.3px #000000;">178.00</span>
<span class="t" id="tt1" style="left:840.94px;top:1298.64px;font-size:26px;color:#000000;transform:scaleX(0.9790);-webkit-text-stroke:1.3px #000000;">$8,115.39</span>
<span class="t" id="tt2" style="left:1052.30px;top:1298.64px;font-size:26px;color:#000000;transform:scaleX(1.0757);-webkit-text-stroke:1.3px #000000;">$375.00</span>
<span class="t" id="tt3" style="left:1221.88px;top:1298.64px;font-size:26px;color:#000000;transform:scaleX(1.0507);-webkit-text-stroke:1.3px #000000;">$7,740.39</span>
<span class="t" id="tt4" style="left:1472.71px;top:1298.64px;font-size:26px;color:#000000;letter-spacing:0.204px;transform:scaleX(1.1000);-webkit-text-stroke:1.3px #000000;">$0.00</span>
<span class="t" id="tt5" style="left:1636.51px;top:1298.64px;font-size:26px;color:#000000;transform:scaleX(1.0952);-webkit-text-stroke:1.3px #000000;">$3,640.00</span>
<span class="t" id="tt6" style="left:1826.41px;top:1298.64px;font-size:26px;color:#000000;letter-spacing:0.204px;transform:scaleX(1.1000);-webkit-text-stroke:1.3px #000000;">$0.00</span>
<span class="t" id="tt7" style="left:1964.02px;top:1298.64px;font-size:26px;color:#000000;letter-spacing:0.128px;transform:scaleX(1.1000);-webkit-text-stroke:1.3px #000000;">$892.69</span>
<span class="t" id="tt8" style="left:2133.52px;top:1298.64px;font-size:26px;color:#000000;letter-spacing:0.204px;transform:scaleX(1.1000);-webkit-text-stroke:1.3px #000000;">$0.00</span>
<span class="t" id="tt9" style="left:2290.56px;top:1298.64px;font-size:26px;color:#000000;transform:scaleX(1.0165);-webkit-text-stroke:1.3px #000000;">$313.00</span>
<span class="t" id="tt10" style="left:2491.32px;top:1298.64px;font-size:26px;color:#000000;letter-spacing:0.204px;transform:scaleX(1.1000);-webkit-text-stroke:1.3px #000000;">$0.00</span>
<span class="t" id="tt11" style="left:2628.47px;top:1298.64px;font-size:26px;color:#000000;transform:scaleX(1.0309);-webkit-text-stroke:1.3px #000000;">$4,100.39</span>
<span class="t" id="tot" style="left:54.76px;top:1298.64px;font-size:26px;color:#000000;transform:scaleX(1.0720);-webkit-text-stroke:1.3px #000000;">Totals</span>
<span class="t" id="tot2" style="left:136.31px;top:1300.82px;font-size:21px;color:#999999;letter-spacing:0.151px;transform:scaleX(1.1000);-webkit-text-stroke:0.6px #999999;">• 4 employees</span>
</body>
</html>
